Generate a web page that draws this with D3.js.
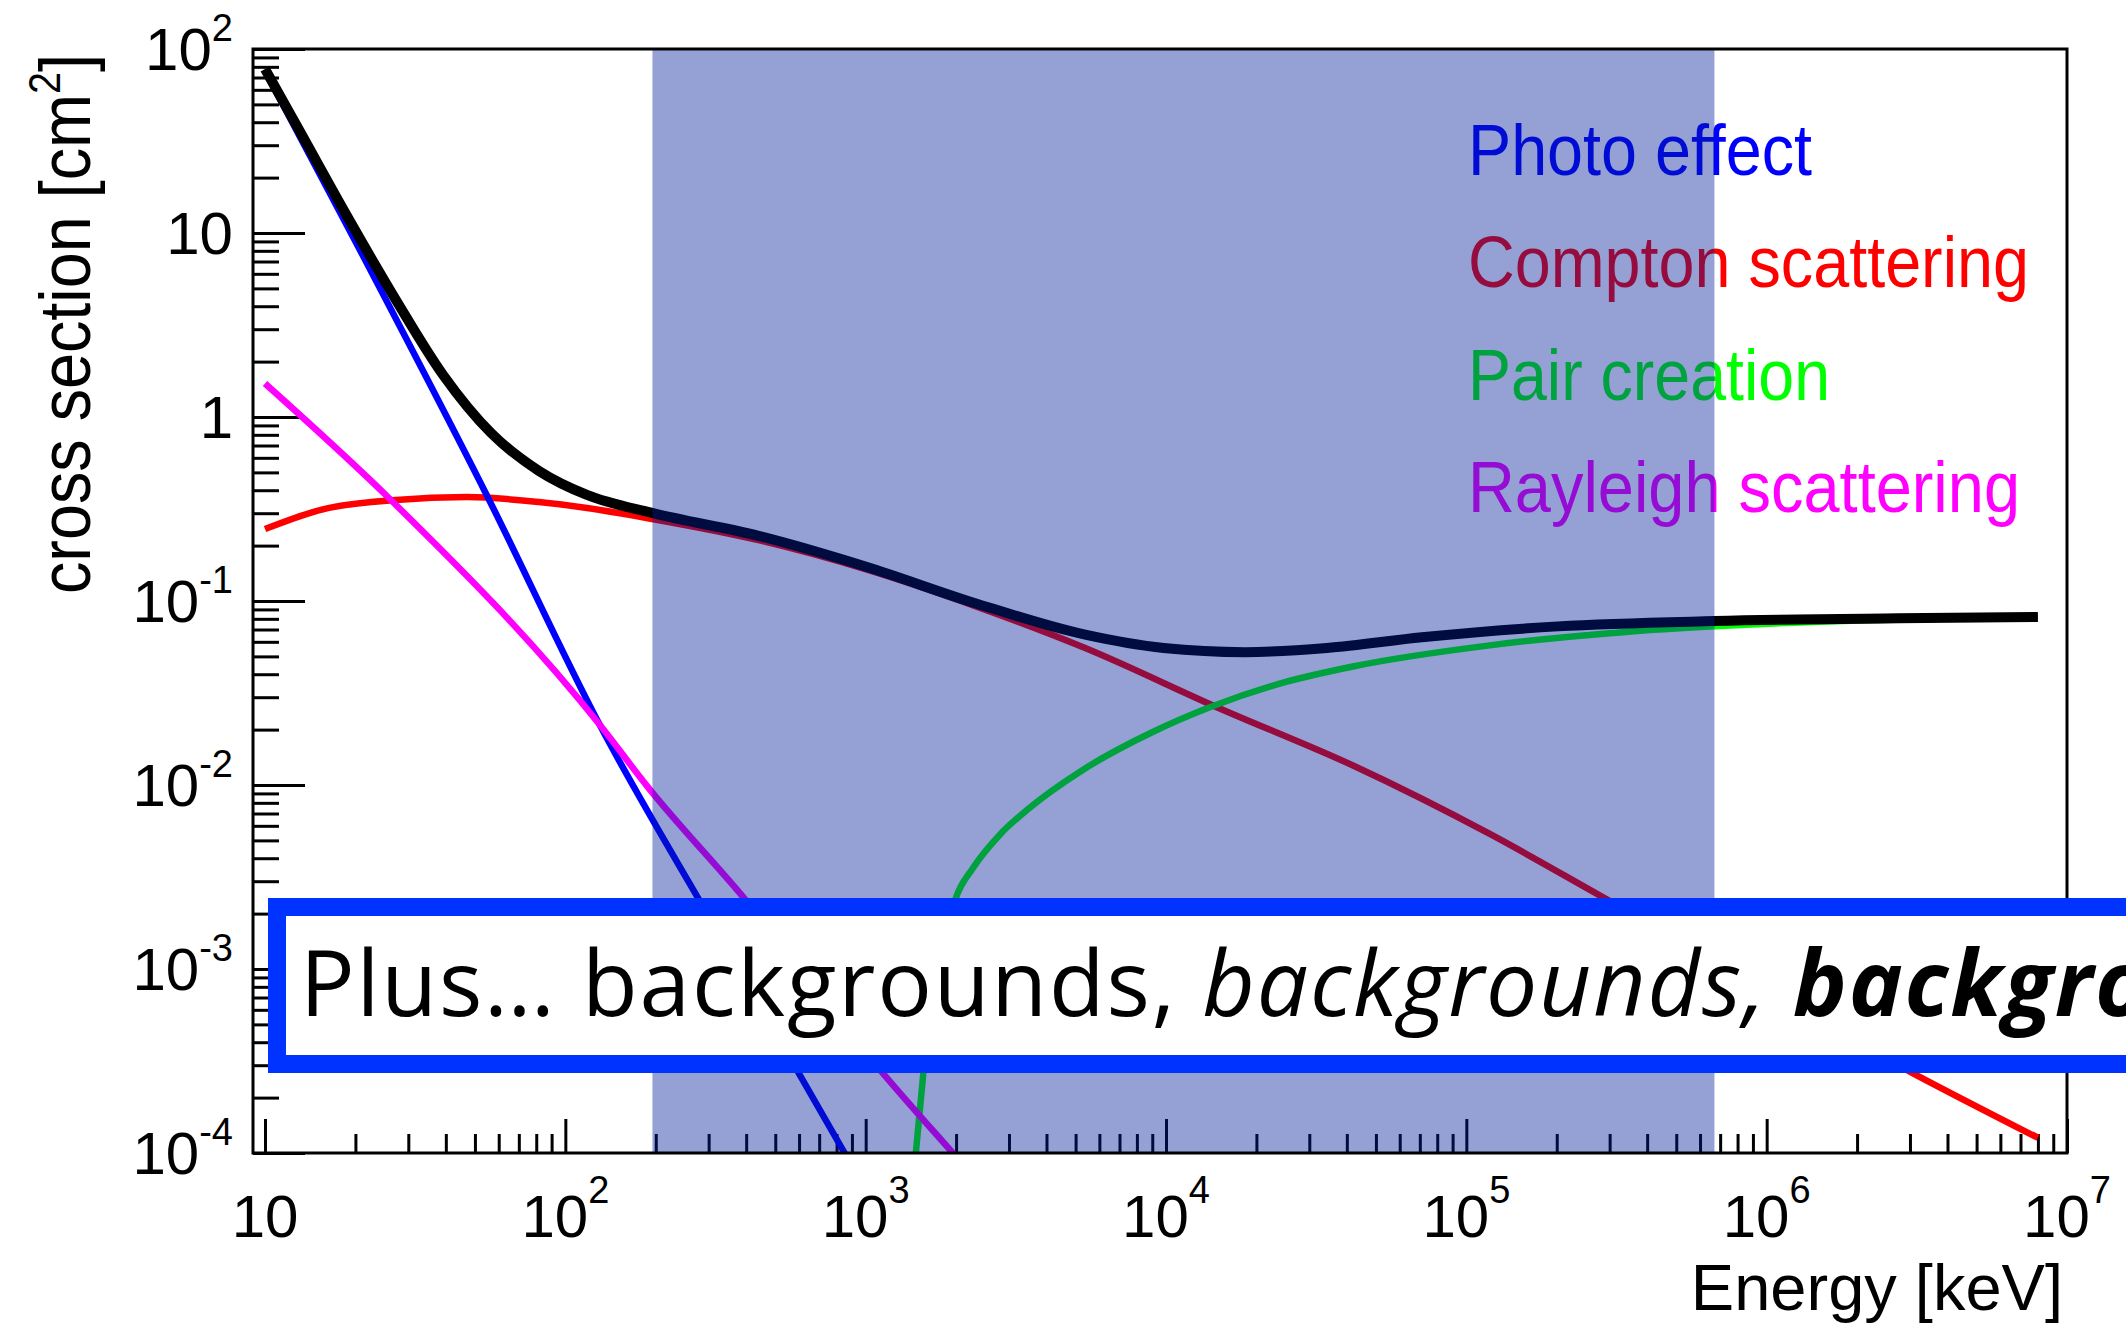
<!DOCTYPE html>
<html><head><meta charset="utf-8">
<script src="https://cdn.jsdelivr.net/npm/d3@7"></script>
<style>
html,body{margin:0;padding:0;background:#fff;overflow:hidden;}
svg{display:block;}
</style></head><body>
<svg id="chart" width="2126" height="1324"></svg>
<script>
// ---- data (energy in keV, cross section in cm^2) ----
const photoE = [10, 20, 54.7, 130, 316, 851, 1000];
const photoS = [76, 9.0, 0.377, 0.0213, 0.00167, 1.0e-4, 6.3e-5];

const rayleighE = [10, 26.2, 130, 188, 396, 1140, 1950, 2200];
const rayleighS = [1.52, 0.355, 0.0213, 0.00977, 0.0024, 2.72e-4, 1.0e-4, 8.0e-5];

const comptonE = [10, 15.7, 27.3, 47.1, 81.7, 118, 194.5, 440, 1010, 2330, 5380, 14900, 42300, 119700, 276000, 3.06e6, 8e6];
const comptonS = [0.246, 0.316, 0.354, 0.367, 0.345, 0.320, 0.279, 0.214, 0.148, 0.0935, 0.0555, 0.0263, 0.01268, 0.00542, 0.00253, 2.72e-4, 1.21e-4];

const pairE = [1469, 1556, 1991, 2280, 2812, 3459, 5250, 8850, 14130, 25060, 42300, 119700, 339600, 670000, 2.74e6, 8e6];
const pairS = [1.0e-4, 2.72e-4, 0.0024, 0.00355, 0.00542, 0.00736, 0.0120, 0.0191, 0.0266, 0.0363, 0.0442, 0.0574, 0.0679, 0.0728, 0.0794, 0.0813];

const totalE = [10, 13.1, 18.9, 27.3, 39.2, 56.6, 81.7, 118, 194.5, 440, 1010, 2330, 5380, 9820, 18300, 34300, 71100, 201800, 670000, 2.74e6, 8e6];
const totalS = [77.8, 35.4, 12.1, 4.32, 1.69, 0.818, 0.509, 0.377, 0.301, 0.226, 0.153, 0.097, 0.0656, 0.0555, 0.0527, 0.0555, 0.0635, 0.0728, 0.0778, 0.0805, 0.0818];

const bandRange = [195, 6.7e5];

const legendLabels = ["Photo effect", "Compton scattering", "Pair creation", "Rayleigh scattering"];
const legendColors = ["#0000ff", "#ff0000", "#00ff00", "#ff00ff"];

const xTickExps = [1, 2, 3, 4, 5, 6, 7];
const yTickExps = [-4, -3, -2, -1, 0, 1, 2];

const xTitle = "Energy [keV]";
const yTitle = "cross section [cm";
const banner = ["Plus\u2026 backgrounds, ", "backgrounds, ", "backgrounds"];

// ---- layout ----
const F = {left: 253, right: 2067, top: 49, bottom: 1153};
const svg = d3.select("#chart");
const x = d3.scaleLog().domain([Math.pow(10, 0.96), 1e7]).range([F.left, F.right]);
const y = d3.scaleLog().domain([1e-4, 1e2]).range([F.bottom, F.top]);

svg.append("defs").append("clipPath").attr("id", "frameClip")
  .append("rect").attr("x", F.left).attr("y", F.top)
  .attr("width", F.right - F.left).attr("height", F.bottom - F.top);

// minor / major tick values
const xMajor = xTickExps.map(e => Math.pow(10, e));
const xMinor = [];
for (let d = 1; d <= 6; d++) for (let k = 2; k <= 9; k++) xMinor.push(k * Math.pow(10, d));
const yMajor = yTickExps.map(e => Math.pow(10, e));
const yMinor = [];
for (let d = -4; d <= 1; d++) for (let k = 2; k <= 9; k++) yMinor.push(k * Math.pow(10, d));

const tickG = svg.append("g");
function axisStyle(g) {
  g.select(".domain").remove();
  g.selectAll("line").attr("stroke", "#000").attr("stroke-width", 3);
  g.selectAll("text").remove();
}
tickG.append("g").attr("transform", `translate(0,${F.bottom})`)
  .call(d3.axisBottom(x).tickValues(xMinor).tickSize(-19).tickFormat("")).call(axisStyle);
tickG.append("g").attr("transform", `translate(0,${F.bottom})`)
  .call(d3.axisBottom(x).tickValues(xMajor).tickSize(-34).tickFormat("")).call(axisStyle);
tickG.append("g").attr("transform", `translate(${F.left},0)`)
  .call(d3.axisLeft(y).tickValues(yMinor).tickSize(-26).tickFormat("")).call(axisStyle);
tickG.append("g").attr("transform", `translate(${F.left},0)`)
  .call(d3.axisLeft(y).tickValues(yMajor).tickSize(-52).tickFormat("")).call(axisStyle);

// ---- curves ----
const line = d3.line().x(d => x(d[0])).y(d => y(d[1])).curve(d3.curveMonotoneX);
const series = [
  {E: comptonE, S: comptonS, c: "#ff0000", w: 6.5},
  {E: pairE, S: pairS, c: "#00ff00", w: 6.5},
  {E: photoE, S: photoS, c: "#0000ff", w: 6.5},
  {E: rayleighE, S: rayleighS, c: "#ff00ff", w: 6.5},
  {E: totalE, S: totalS, c: "#000000", w: 10}
];
const curveG = svg.append("g").attr("clip-path", "url(#frameClip)");
series.forEach(s => {
  curveG.append("path").datum(s.E.map((e, i) => [e, s.S[i]]))
    .attr("d", line).attr("fill", "none").attr("stroke", s.c)
    .attr("stroke-width", s.w).attr("stroke-linejoin", "round");
});

// ---- legend ----
const legendWidths = [344, 561, 362, 552];
legendLabels.forEach((t, i) => {
  svg.append("text").attr("x", 1468).attr("y", 175 + i * 112.3)
    .attr("font-family", "Liberation Sans, Arial, sans-serif").attr("font-size", 72)
    .attr("fill", legendColors[i])
    .attr("textLength", legendWidths[i]).attr("lengthAdjust", "spacingAndGlyphs")
    .text(t);
});

// ---- shaded band (drawn over curves) ----
svg.append("rect").attr("x", x(bandRange[0])).attr("y", F.top)
  .attr("width", x(bandRange[1]) - x(bandRange[0])).attr("height", F.bottom - F.top)
  .attr("fill", "rgb(0,29,151)").attr("fill-opacity", 0.416);

// ---- frame ----
svg.append("rect").attr("x", F.left).attr("y", F.top)
  .attr("width", F.right - F.left).attr("height", F.bottom - F.top)
  .attr("fill", "none").attr("stroke", "#000").attr("stroke-width", 3);

// ---- tick labels ----
const tickFont = "Liberation Sans, Arial, sans-serif";
xTickExps.forEach(e => {
  const t = svg.append("text").attr("x", x(Math.pow(10, e))).attr("y", 1237)
    .attr("text-anchor", "middle").attr("font-family", tickFont).attr("font-size", 60).attr("fill", "#000");
  t.append("tspan").text("10");
  if (e !== 1) t.append("tspan").attr("font-size", 38).attr("dy", -34).text(String(e));
});
yTickExps.forEach(e => {
  const t = svg.append("text").attr("x", 233).attr("y", y(Math.pow(10, e)) + 21)
    .attr("text-anchor", "end").attr("font-family", tickFont).attr("font-size", 60).attr("fill", "#000");
  if (e === 0) t.append("tspan").text("1");
  else if (e === 1) t.append("tspan").text("10");
  else {
    t.append("tspan").text("10");
    t.append("tspan").attr("font-size", 38).attr("dy", -29).text(String(e));
  }
});

// ---- axis titles ----
svg.append("text").attr("x", 2063).attr("y", 1310).attr("text-anchor", "end")
  .attr("font-family", tickFont).attr("font-size", 65).attr("fill", "#000").text(xTitle);
const yt = svg.append("text").attr("transform", "translate(90,54) rotate(-90)")
  .attr("text-anchor", "end").attr("font-family", tickFont).attr("font-size", 72).attr("fill", "#000")
  .attr("textLength", 540).attr("lengthAdjust", "spacingAndGlyphs");
yt.append("tspan").text(yTitle);
yt.append("tspan").attr("font-size", 44).attr("dy", -30).text("2");
yt.append("tspan").attr("dy", 30).text("]");

// ---- banner box ----
svg.append("rect").attr("x", 277).attr("y", 907).attr("width", 2000).attr("height", 157)
  .attr("fill", "#fff").attr("stroke", "#0033ff").attr("stroke-width", 18);
const bt = svg.append("text").attr("x", 300).attr("y", 1016)
  .attr("font-family", "'Open Sans', Lato, sans-serif").attr("font-size", 91).attr("fill", "#000")
  .attr("letter-spacing", 1.8)
  .attr("xml:space", "preserve").style("white-space", "pre");
bt.append("tspan").text(banner[0]);
bt.append("tspan").attr("font-style", "italic").text(banner[1]);
bt.append("tspan").attr("font-style", "italic").attr("font-weight", "bold").text(banner[2]);
</script>
</body></html>
